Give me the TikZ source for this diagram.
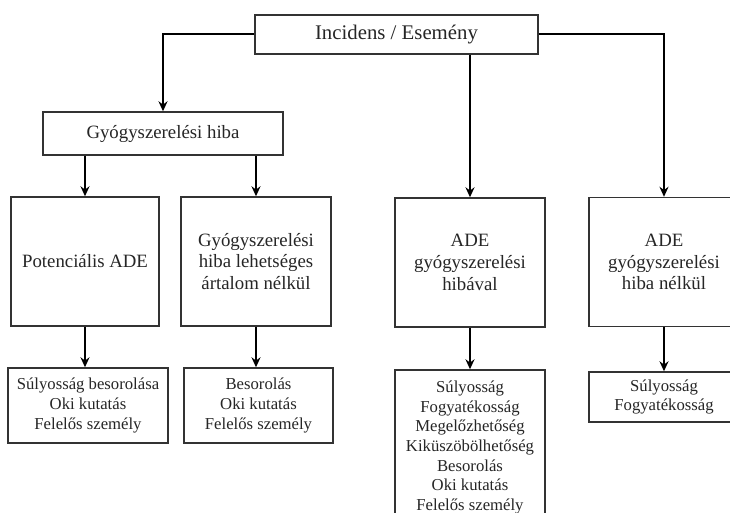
\documentclass[tikz,border=0pt]{standalone}
\usepackage{fontspec}
\newfontfamily\tms{Liberation Serif}
\usetikzlibrary{arrows.meta}

\begin{document}
\begin{tikzpicture}[
    x=0.5pt, y=-0.5pt,
    font={\tms\fontsize{9.4}{10.9}\selectfont},
    box/.style={draw=black!80, line width=0.7pt, text=black!85, align=center, inner sep=0pt},
    small/.style={font={\tms\fontsize{8.35}{9.85}\selectfont}},
    arr/.style={line width=1pt, -{Stealth[length=5pt,width=4.5pt]}}
    ]
    \clip (0,0) rectangle (730,513);
    \fill[white] (0,0) rectangle (730,513);
    \node[box, font={\tms\fontsize{10.4}{12}\selectfont}, minimum width=141.5pt, minimum height=19.5pt] (inc) at (396.5,34.5) {Incidens / Esemény};
    \node[box, minimum width=120pt, minimum height=21.5pt] (gyh) at (163,133.5) {Gyógyszerelési hiba};
    \node[box, minimum width=74pt, minimum height=64.5pt] (pot) at (85,261.5) {Potenciális ADE};
    \node[box, minimum width=75pt, minimum height=64.5pt] (lehet) at (256,261.5) {Gyógyszerelési\\hiba lehetséges\\ártalom nélkül};
    \node[box, minimum width=75pt, minimum height=64.5pt] (adeh) at (470,262.5) {ADE\\gyógyszerelési\\hibával};
    \node[box, minimum width=75pt, minimum height=64.5pt] (aden) at (664,262) {ADE\\gyógyszerelési\\hiba nélkül};
    \node[box, small, minimum width=80pt, minimum height=37.5pt] (sub1) at (88,405.5) {Súlyosság besorolása\\Oki kutatás\\Felelős személy};
    \node[box, small, minimum width=74.5pt, minimum height=37.5pt] (sub2) at (258.5,405.5) {Besorolás\\Oki kutatás\\Felelős személy};
    \node[box, small, minimum width=75pt, minimum height=77.5pt] (sub3) at (470,447.5) {Súlyosság\\Fogyatékosság\\Megelőzhetőség\\Kiküszöbölhetőség\\Besorolás\\Oki kutatás\\Felelős személy};
    \node[box, small, minimum width=75pt, minimum height=25pt] (sub4) at (664,397) {Súlyosság\\Fogyatékosság};
    \draw[arr] (inc.west) -| (gyh.north);
    \draw[arr] (inc.east) -| (aden.north);
    \draw[arr] (inc.south -| adeh.north) -- (adeh.north);
    \draw[arr] (gyh.south -| pot.north) -- (pot.north);
    \draw[arr] (gyh.south -| lehet.north) -- (lehet.north);
    \draw[arr] (pot.south) -- (pot.south |- sub1.north);
    \draw[arr] (lehet.south) -- (lehet.south |- sub2.north);
    \draw[arr] (adeh.south) -- (sub3.north);
    \draw[arr] (aden.south) -- (sub4.north);
  \end{tikzpicture}
\end{document}
